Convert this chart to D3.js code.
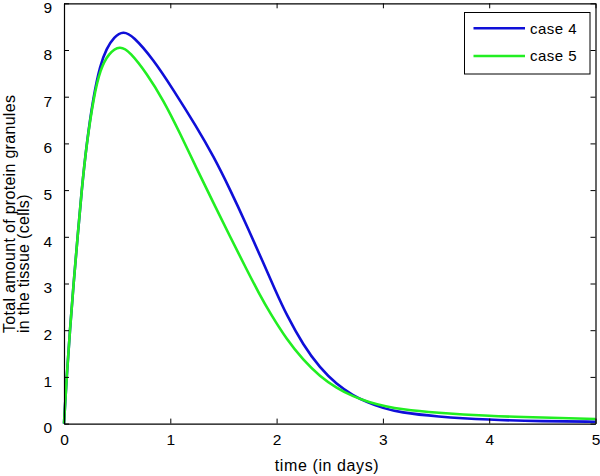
<!DOCTYPE html>
<html><head><meta charset="utf-8">
<script src="https://cdn.jsdelivr.net/npm/d3@7"></script>
<style>
html,body{margin:0;padding:0;background:#fff;}
svg{display:block;font-family:"Liberation Sans",Arial,sans-serif;}
</style></head>
<body><svg id="chart" width="600" height="476"></svg>
<script>
const seriesNames = ["case 4", "case 5"];
const seriesColors = ["#0f0fd8", "#22ee22"];
const case4T = [0, 0.025, 0.056, 0.09, 0.128, 0.166, 0.213, 0.276, 0.34, 0.40, 0.47, 0.557, 0.65, 0.84, 1.028, 1.248, 1.405, 1.561, 1.718, 1.875, 1.985, 2.095, 2.251, 2.408, 2.565, 2.72, 2.85, 3.0, 3.16, 3.5, 4.0, 4.5, 5.0];
const case4V = [0, 1.0, 2.0, 3.0, 4.0, 5.0, 6.0, 7.0, 7.68, 8.03, 8.28, 8.41, 8.3, 7.8, 7.15, 6.35, 5.73, 5.02, 4.25, 3.44, 2.87, 2.32, 1.68, 1.19, 0.84, 0.6, 0.46, 0.33, 0.24, 0.15, 0.08, 0.05, 0.04];
const case5T = [0, 0.025, 0.056, 0.09, 0.128, 0.166, 0.213, 0.28, 0.34, 0.42, 0.526, 0.621, 0.778, 0.934, 1.091, 1.248, 1.405, 1.561, 1.718, 1.843, 1.938, 2.095, 2.251, 2.408, 2.565, 2.72, 2.88, 3.03, 3.16, 3.5, 4.0, 4.5, 5.0];
const case5V = [0, 1.0, 2.0, 3.0, 4.0, 5.0, 6.0, 7.0, 7.58, 7.93, 8.1, 7.96, 7.5, 6.93, 6.22, 5.46, 4.73, 4.01, 3.3, 2.75, 2.37, 1.8, 1.36, 1.01, 0.76, 0.58, 0.45, 0.37, 0.31, 0.23, 0.16, 0.13, 0.10];
const xTicks = [0, 1, 2, 3, 4, 5];
const yTicks = [0, 1, 2, 3, 4, 5, 6, 7, 8, 9];
const xTitle = "time (in days)";
const yTitleLines = ["Total amount of protein granules", "in the tissue (cells)"];

const svg = d3.select("#chart");
const L = 64, R = 595.5, T = 3.3, B = 423.6;
const x = d3.scaleLinear().domain([0, 5]).range([L, R]);
const y = d3.scaleLinear().domain([0, 9]).range([B, T]);

const series = [
  case4T.map((t, i) => [t, case4V[i]]),
  case5T.map((t, i) => [t, case5V[i]])
];
const line = d3.line().x(d => x(d[0])).y(d => y(d[1])).curve(d3.curveBasis);

const plot = svg.append("g");
series.forEach((s, i) => {
  plot.append("path").datum(s).attr("d", line)
    .attr("fill", "none").attr("stroke", seriesColors[i]).attr("stroke-width", 2.6)
    .attr("stroke-linejoin", "round");
});

// axes with inward ticks
const xb = svg.append("g").attr("transform", `translate(0,${B})`)
  .call(d3.axisBottom(x).tickValues(xTicks).tickSizeInner(-5).tickSizeOuter(0).tickPadding(10).tickFormat(d3.format("d")));
const xt = svg.append("g").attr("transform", `translate(0,${T})`)
  .call(d3.axisTop(x).tickValues(xTicks).tickSizeInner(-5).tickSizeOuter(0).tickFormat(""));
const yl = svg.append("g").attr("transform", `translate(${L},0)`)
  .call(d3.axisLeft(y).tickValues(yTicks).tickSizeInner(-5).tickSizeOuter(0).tickPadding(12).tickFormat(d3.format("d")));
const yr = svg.append("g").attr("transform", `translate(${R},0)`)
  .call(d3.axisRight(y).tickValues(yTicks).tickSizeInner(-5).tickSizeOuter(0).tickFormat(""));
[xb, xt, yl, yr].forEach(g => {
  g.select(".domain").attr("stroke", "#000").attr("stroke-width", 1.2);
  g.selectAll(".tick line").attr("stroke", "#000").attr("stroke-width", 1);
  g.selectAll("text").attr("font-size", "15.5px").attr("fill", "#000").attr("font-family", "Liberation Sans, Arial, sans-serif");
});
yl.selectAll("text").attr("dy", "0.6em");
xb.selectAll("text").attr("dy", "0.71em");

// titles
svg.append("text").attr("x", 327).attr("y", 471).attr("text-anchor", "middle")
  .attr("font-size", "16px").attr("letter-spacing", "0.6px").attr("fill", "#000").text(xTitle);
yTitleLines.forEach((t, i) => {
  svg.append("text").attr("transform", `translate(${15 + i * 13.5},333) rotate(-90)`)
    .attr("text-anchor", "start").attr("font-size", "16px").attr("letter-spacing", "0.3px").attr("fill", "#000").text(t);
});

// legend
const lg = svg.append("g");
lg.append("rect").attr("x", 464.5).attr("y", 12.5).attr("width", 125.5).attr("height", 61.5)
  .attr("fill", "#fff").attr("stroke", "#000").attr("stroke-width", 1);
seriesNames.forEach((n, i) => {
  const ly = 28.3 + i * 27.7;
  lg.append("line").attr("x1", 473.5).attr("x2", 525).attr("y1", ly).attr("y2", ly)
    .attr("stroke", seriesColors[i]).attr("stroke-width", 2.6);
  lg.append("text").attr("x", 530).attr("y", ly).attr("dy", "0.36em")
    .attr("font-size", "15px").attr("letter-spacing", "0.5px").attr("fill", "#000").text(n);
});
</script></body></html>
